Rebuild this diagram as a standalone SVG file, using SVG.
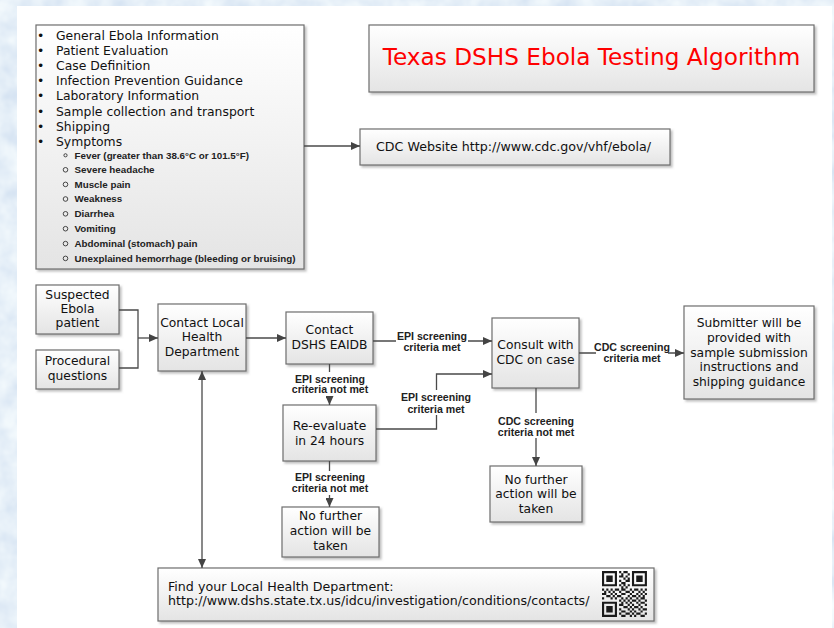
<svg xmlns="http://www.w3.org/2000/svg" width="834" height="628" viewBox="0 0 834 628">
<defs>
<linearGradient id="g" x1="0" y1="0" x2="0" y2="1">
<stop offset="0" stop-color="#ffffff"/>
<stop offset="1" stop-color="#e4e4e4"/>
</linearGradient>
<filter id="sh" x="-5%" y="-5%" width="115%" height="120%">
<feDropShadow dx="2" dy="2" stdDeviation="1" flood-color="#888" flood-opacity="0.55"/>
</filter>
<filter id="tex" x="0" y="0" width="100%" height="100%">
<feTurbulence type="fractalNoise" baseFrequency="0.045" numOctaves="3" seed="4"/>
<feColorMatrix type="matrix" values="0.35 0 0 0 0.62  0.28 0 0 0 0.73  0.14 0 0 0 0.87  0 0 0 0 1"/>
</filter>
<marker id="ah" viewBox="0 0 9 8" refX="9" refY="4" markerWidth="9" markerHeight="8" markerUnits="userSpaceOnUse" orient="auto-start-reverse">
<path d="M0,0 L9,4 L0,8 z" fill="#444"/>
</marker>
<style>
.box{fill:url(#g);stroke:#6e6e6e;stroke-width:1.2;filter:url(#sh)}
.t{font-family:"DejaVu Sans",Verdana,sans-serif;font-size:12.3px;fill:#111;text-anchor:middle}
.tl{font-family:"DejaVu Sans",Verdana,sans-serif;font-size:12.65px;fill:#111}
.li{font-family:"DejaVu Sans",Verdana,sans-serif;font-size:12.4px;fill:#111}
.sub{font-family:"Liberation Sans",Arial,sans-serif;font-size:9.8px;font-weight:bold;fill:#222}
.lb{font-family:"Liberation Sans",Arial,sans-serif;font-size:10.6px;font-weight:bold;fill:#222;text-anchor:middle}
.c{fill:none;stroke:#4a4a4a;stroke-width:1.3}
.bg{fill:#ffffff}
.sb{fill:none;stroke:#333;stroke-width:0.9}
</style>
</defs>
<rect x="0" y="0" width="834" height="628" fill="#cfe0f3"/>
<rect x="0" y="0" width="834" height="628" filter="url(#tex)"/>
<rect x="17" y="6" width="815" height="622" fill="#ffffff"/>

<g id="info-list">
<rect class="box" x="36" y="25" width="268" height="244"/>
<g class="li">
<text x="37" y="39.5">•</text><text x="56" y="39.5">General Ebola Information</text>
<text x="37" y="54.7">•</text><text x="56" y="54.7">Patient Evaluation</text>
<text x="37" y="69.9">•</text><text x="56" y="69.9">Case Definition</text>
<text x="37" y="85.1">•</text><text x="56" y="85.1">Infection Prevention Guidance</text>
<text x="37" y="100.3">•</text><text x="56" y="100.3">Laboratory Information</text>
<text x="37" y="115.5">•</text><text x="56" y="115.5">Sample collection and transport</text>
<text x="37" y="130.7">•</text><text x="56" y="130.7">Shipping</text>
<text x="37" y="145.9">•</text><text x="56" y="145.9">Symptoms</text>
</g>
<circle class="sb" cx="65.5" cy="155.3" r="1.6"/>
<circle class="sb" cx="65.5" cy="169.8" r="2.3"/>
<circle class="sb" cx="65.5" cy="184.4" r="2.3"/>
<circle class="sb" cx="65.5" cy="199" r="2.3"/>
<circle class="sb" cx="65.5" cy="213.8" r="2.3"/>
<circle class="sb" cx="65.5" cy="228.7" r="2.3"/>
<circle class="sb" cx="65.5" cy="243.6" r="2.3"/>
<circle class="sb" cx="65.5" cy="258.4" r="2.3"/>
<g class="sub">
<text x="74.5" y="158.6">Fever (greater than 38.6°C or 101.5°F)</text>
<text x="74.5" y="173.2">Severe headache</text>
<text x="74.5" y="187.8">Muscle pain</text>
<text x="74.5" y="202.4">Weakness</text>
<text x="74.5" y="217.2">Diarrhea</text>
<text x="74.5" y="232.1">Vomiting</text>
<text x="74.5" y="247">Abdominal (stomach) pain</text>
<text x="74.5" y="261.8">Unexplained hemorrhage (bleeding or bruising)</text>
</g>
</g>

<g id="title">
<rect class="box" x="369" y="25" width="445" height="67"/>
<text x="591.5" y="65" font-family="DejaVu Sans, Verdana, sans-serif" font-size="23.2" fill="#ff0000" text-anchor="middle">Texas DSHS Ebola Testing Algorithm</text>
</g>

<g id="cdc-website">
<rect class="box" x="360" y="129" width="310" height="36"/>
<text class="tl" x="376" y="150.5">CDC Website http://www.cdc.gov/vhf/ebola/</text>
</g>

<g id="suspected">
<rect class="box" x="36" y="285" width="83" height="49"/>
<text class="t" x="77.5" y="298.8">Suspected</text>
<text class="t" x="77.5" y="313.2">Ebola</text>
<text class="t" x="77.5" y="327.2">patient</text>
</g>

<g id="procedural">
<rect class="box" x="36" y="350" width="83" height="39"/>
<text class="t" x="77.5" y="364.5">Procedural</text>
<text class="t" x="77.5" y="379.8">questions</text>
</g>

<g id="contact-local">
<rect class="box" x="158" y="304" width="88" height="67"/>
<text class="t" x="202" y="326.5">Contact Local</text>
<text class="t" x="202" y="340.8">Health</text>
<text class="t" x="202" y="355.8">Department</text>
</g>

<g id="contact-dshs">
<rect class="box" x="286" y="312" width="87" height="52"/>
<text class="t" x="329.5" y="333.8">Contact</text>
<text class="t" x="329.5" y="349.2">DSHS EAIDB</text>
</g>

<g id="consult-cdc">
<rect class="box" x="492" y="318" width="87" height="70"/>
<text class="t" x="535.5" y="348.8">Consult with</text>
<text class="t" x="535.5" y="363.5">CDC on case</text>
</g>

<g id="submitter">
<rect class="box" x="684" y="306" width="130" height="93"/>
<text class="t" x="749" y="326.8">Submitter will be</text>
<text class="t" x="749" y="341.8">provided with</text>
<text class="t" x="749" y="356.8">sample submission</text>
<text class="t" x="749" y="371.2">instructions and</text>
<text class="t" x="749" y="385.5">shipping guidance</text>
</g>

<g id="no-action-right">
<rect class="box" x="490" y="466" width="92" height="56"/>
<text class="t" x="536" y="483.5">No further</text>
<text class="t" x="536" y="497.8">action will be</text>
<text class="t" x="536" y="512.8">taken</text>
</g>

<g id="reevaluate">
<rect class="box" x="283" y="405" width="93" height="56"/>
<text class="t" x="329.5" y="429.8">Re-evaluate</text>
<text class="t" x="329.5" y="445.2">in 24 hours</text>
</g>

<g id="no-action-left">
<rect class="box" x="282" y="507" width="97" height="50"/>
<text class="t" x="330.5" y="520.2">No further</text>
<text class="t" x="330.5" y="534.5">action will be</text>
<text class="t" x="330.5" y="549.5">taken</text>
</g>

<g id="find-lhd">
<rect class="box" x="158" y="568" width="496" height="53"/>
<text class="tl" x="168" y="591.2">Find your Local Health Department:</text>
<text class="tl" x="168" y="605.2">http://www.dshs.state.tx.us/idcu/investigation/conditions/contacts/</text>
<g transform="translate(602,571) scale(2.14,2.19)" fill="#1a1a1a">
<path fill-rule="evenodd" d="M0,0h7v7h-7z M1,1v5h5v-5z M2,2h3v3h-3z M14,0h7v7h-7z M15,1v5h5v-5z M16,2h3v3h-3z M0,14h7v7h-7z M1,15v5h5v-5z M2,16h3v3h-3z"/>
<path d="M8,0h1v1h-1z M10,0h2v1h-2z M9,1h1v1h-1z M12,1h1v1h-1z M8,2h2v1h-2z M11,2h1v1h-1z M10,3h1v1h-1z M12,3h1v1h-1z M8,4h1v1h-1z M11,4h2v1h-2z M9,5h2v1h-2z M8,6h1v1h-1z M10,6h1v1h-1z M12,6h1v1h-1z M9,7h1v1h-1z M11,7h1v1h-1z
M0,8h1v1h-1z M2,8h1v1h-1z M4,8h1v1h-1z M6,8h2v1h-2z M9,8h2v1h-2z M13,8h1v1h-1z M15,8h2v1h-2z M18,8h1v1h-1z M20,8h1v1h-1z
M1,9h1v1h-1z M3,9h1v1h-1z M5,9h1v1h-1z M8,9h1v1h-1z M11,9h2v1h-2z M14,9h1v1h-1z M17,9h1v1h-1z M19,9h1v1h-1z
M0,10h2v1h-2z M4,10h1v1h-1z M6,10h1v1h-1z M9,10h2v1h-2z M13,10h1v1h-1z M16,10h1v1h-1z M18,10h1v1h-1z M20,10h1v1h-1z
M2,11h2v1h-2z M5,11h1v1h-1z M7,11h2v1h-2z M12,11h1v1h-1z M14,11h2v1h-2z M17,11h1v1h-1z M19,11h1v1h-1z
M0,12h1v1h-1z M4,12h1v1h-1z M6,12h1v1h-1z M9,12h1v1h-1z M11,12h1v1h-1z M13,12h1v1h-1z M16,12h1v1h-1z M18,12h2v1h-2z
M8,13h1v1h-1z M10,13h1v1h-1z M12,13h1v1h-1z M14,13h2v1h-2z M17,13h1v1h-1z M20,13h1v1h-1z
M9,14h1v1h-1z M11,14h1v1h-1z M13,14h1v1h-1z M16,14h1v1h-1z M18,14h2v1h-2z
M8,15h2v1h-2z M12,15h1v1h-1z M14,15h1v1h-1z M17,15h1v1h-1z M20,15h1v1h-1z
M10,16h2v1h-2z M13,16h1v1h-1z M15,16h2v1h-2z M18,16h1v1h-1z
M8,17h1v1h-1z M12,17h1v1h-1z M14,17h1v1h-1z M17,17h1v1h-1z M19,17h2v1h-2z
M9,18h2v1h-2z M13,18h1v1h-1z M15,18h1v1h-1z M18,18h1v1h-1z
M8,19h1v1h-1z M11,19h2v1h-2z M14,19h1v1h-1z M16,19h2v1h-2z M20,19h1v1h-1z
M9,20h2v1h-2z M13,20h1v1h-1z M15,20h1v1h-1z M18,20h2v1h-2z"/>
</g>
</g>

<g id="connectors">
<path class="c" d="M304,146 H360" marker-end="url(#ah)"/>
<path class="c" d="M119,310 H138 V368 H119"/>
<path class="c" d="M138,338 H158" marker-end="url(#ah)"/>
<path class="c" d="M246,338 H286" marker-end="url(#ah)"/>
<path class="c" d="M373,341 H492" marker-end="url(#ah)"/>
<path class="c" d="M579,353 H684" marker-end="url(#ah)"/>
<path class="c" d="M536,388 V466" marker-end="url(#ah)"/>
<path class="c" d="M329.5,364 V405" marker-end="url(#ah)"/>
<path class="c" d="M376,429 H436.5 V374 H492" marker-end="url(#ah)"/>
<path class="c" d="M329.5,461 V507" marker-end="url(#ah)"/>
<path class="c" d="M202,371 V568" marker-start="url(#ah)" marker-end="url(#ah)"/>

<rect class="bg" x="396" y="330" width="72" height="24"/>
<text class="lb" x="432" y="339.5">EPI screening</text>
<text class="lb" x="432" y="351">criteria met</text>

<rect class="bg" x="596" y="340" width="72" height="25"/>
<text class="lb" x="632" y="350.8">CDC screening</text>
<text class="lb" x="632" y="362.2">criteria met</text>

<rect class="bg" x="497" y="413" width="78" height="25"/>
<text class="lb" x="536" y="424.5">CDC screening</text>
<text class="lb" x="536" y="436.2">criteria not met</text>

<rect class="bg" x="291" y="372" width="78" height="24"/>
<text class="lb" x="330" y="382.5">EPI screening</text>
<text class="lb" x="330" y="393.2">criteria not met</text>

<rect class="bg" x="400" y="390" width="72" height="25"/>
<text class="lb" x="436" y="401.2">EPI screening</text>
<text class="lb" x="436" y="412.8">criteria met</text>

<rect class="bg" x="291" y="471" width="78" height="24"/>
<text class="lb" x="330" y="481.2">EPI screening</text>
<text class="lb" x="330" y="492.2">criteria not met</text>
</g>
</svg>
